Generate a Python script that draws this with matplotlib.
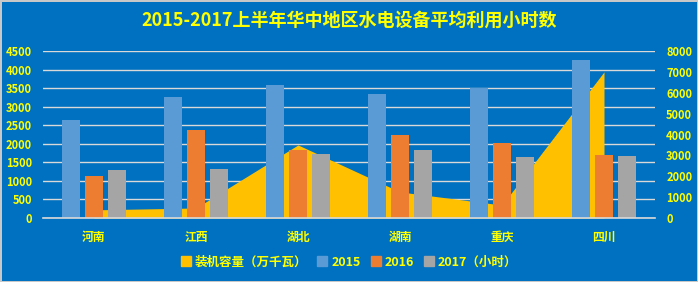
import matplotlib
matplotlib.use('Agg')
import matplotlib.pyplot as plt
import matplotlib.patches as patches
import numpy as np

plt.rcParams['font.family'] = ['Noto Sans CJK SC', 'DejaVu Sans']

# 数据
provinces = ['河南', '江西', '湖北', '湖南', '重庆', '四川']
capacity = [390, 480, 3500, 1250, 620, 7000]        # 装机容量（万千瓦），右轴
hours_2015 = [2640, 3270, 3590, 3340, 3500, 4260]
hours_2016 = [1130, 2380, 1830, 2240, 2020, 1700]
hours_2017 = [1300, 1320, 1730, 1830, 1640, 1670]
left_ticks = [0, 500, 1000, 1500, 2000, 2500, 3000, 3500, 4000, 4500]
right_ticks = [0, 1000, 2000, 3000, 4000, 5000, 6000, 7000, 8000]

bg = '#0070C0'
yellow = '#FFFF00'
grid_c = '#D9D9D9'

fig = plt.figure(figsize=(6.98, 2.82), dpi=100)
fig.patch.set_facecolor(bg)
fig.patch.set_edgecolor('#C8C8C8')
fig.patch.set_linewidth(2)

ax = fig.add_axes([43 / 698, 1 - 218 / 282, 612 / 698, 167 / 282])
ax.set_facecolor(bg)
ax2 = ax.twinx()

x = np.arange(len(provinces))
ax.set_xlim(-0.5, len(provinces) - 0.5)
ax.set_ylim(0, 4500)
ax2.set_ylim(0, 8000)

# 网格线在面积图下面
ax.set_axisbelow(True)
ax.grid(axis='y', color=grid_c, linewidth=1)
ax.set_yticks(left_ticks)
ax2.set_yticks(right_ticks)

# 面积图按右轴刻度画
ax.fill_between(x, capacity, 0, color='#FFC000', linewidth=0,
                transform=ax2.transData, zorder=1)

w = 0.176
off = 0.225
ax.bar(x - off, hours_2015, w, color='#5B9BD5', zorder=2)
ax.bar(x, hours_2016, w, color='#ED7D31', zorder=2)
ax.bar(x + off, hours_2017, w, color='#A5A5A5', zorder=2)

for a in (ax, ax2):
    for s in a.spines.values():
        s.set_visible(False)
ax.spines['bottom'].set_visible(True)
ax.spines['bottom'].set_color(grid_c)
ax.spines['bottom'].set_linewidth(1.2)

ax.set_xticks(x)
ax.set_xticklabels(provinces)
ax.tick_params(axis='x', length=0, pad=9, labelsize=8.5, labelcolor=yellow)
ax.tick_params(axis='y', length=0, pad=8, labelsize=8, labelcolor=yellow)
ax2.tick_params(axis='y', length=0, pad=8, labelsize=8, labelcolor=yellow)
for lab in ax.get_xticklabels() + ax.get_yticklabels() + ax2.get_yticklabels():
    lab.set_fontweight('bold')

fig.text(0.5, 1 - 20 / 282, '2015-2017上半年华中地区水电设备平均利用小时数',
         ha='center', va='center', color=yellow, fontsize=13, fontweight='bold')

handles = [patches.Patch(color='#FFC000'), patches.Patch(color='#5B9BD5'),
           patches.Patch(color='#ED7D31'), patches.Patch(color='#A5A5A5')]
labels = ['装机容量（万千瓦）', '2015', '2016', '2017（小时）']
leg = fig.legend(handles, labels, loc='center', bbox_to_anchor=(0.5, 1 - 262 / 282),
                 ncol=4, frameon=False, handlelength=0.8, handleheight=0.8,
                 handletextpad=0.3, columnspacing=0.8, fontsize=9)
for t in leg.get_texts():
    t.set_color(yellow)
    t.set_fontweight('bold')

fig.savefig('out.png', dpi=100, facecolor=bg, edgecolor=fig.patch.get_edgecolor())
